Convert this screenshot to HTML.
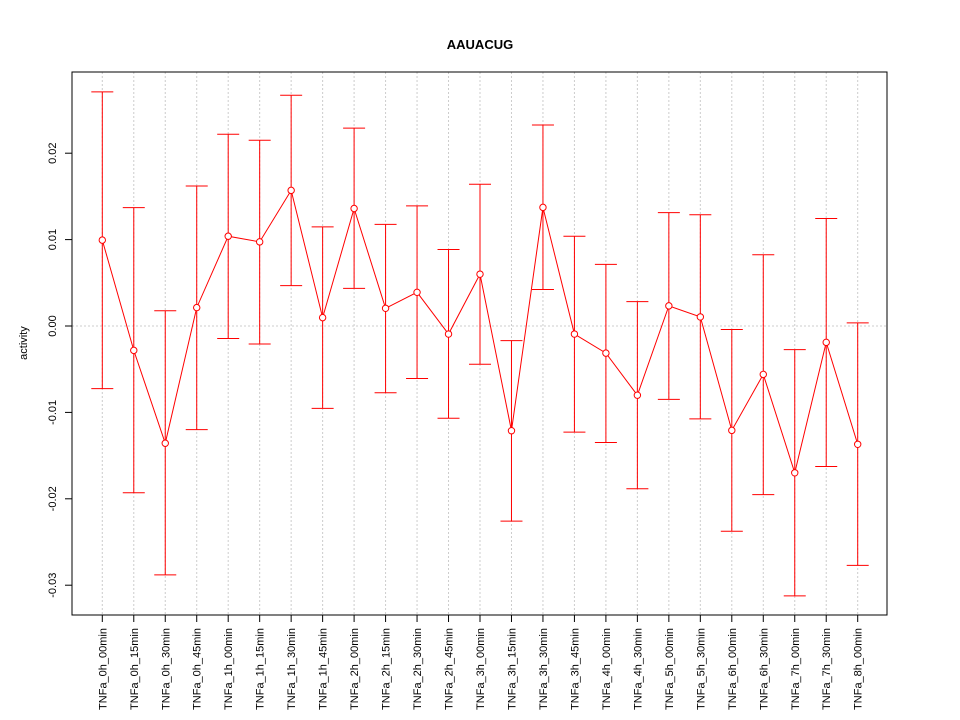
<!DOCTYPE html>
<html><head><meta charset="utf-8"><style>
body{margin:0;background:#fff}
svg{display:block;font-family:"Liberation Sans",sans-serif}
</style></head><body>
<svg id="chart" width="960" height="720">
<rect width="960" height="720" fill="#fff"/>
<text x="480" y="49" text-anchor="middle" font-weight="bold" font-size="13">AAUACUG</text>
<text transform="translate(27,343) rotate(-90)" text-anchor="middle" font-size="11">activity</text>
<g id="grid"></g><g id="marks"></g><g id="axes"></g>
<rect x="72" y="72" width="815" height="543" fill="none" stroke="#000"/>
</svg>
<script>
const categories=["TNFa_0h_00min","TNFa_0h_15min","TNFa_0h_30min","TNFa_0h_45min","TNFa_1h_00min","TNFa_1h_15min","TNFa_1h_30min","TNFa_1h_45min","TNFa_2h_00min","TNFa_2h_15min","TNFa_2h_30min","TNFa_2h_45min","TNFa_3h_00min","TNFa_3h_15min","TNFa_3h_30min","TNFa_3h_45min","TNFa_4h_00min","TNFa_4h_30min","TNFa_5h_00min","TNFa_5h_30min","TNFa_6h_00min","TNFa_6h_30min","TNFa_7h_00min","TNFa_7h_30min","TNFa_8h_00min"];
const values=[0.00994,-0.00282,-0.01357,0.00213,0.01039,0.00974,0.0157,0.00097,0.0136,0.00205,0.0039,-0.00093,0.006,-0.01212,0.01373,-0.00093,-0.00314,-0.00801,0.00233,0.00105,-0.01208,-0.0056,-0.01699,-0.00189,-0.01369];
const upper=[0.0271,0.0137,0.00177,0.0162,0.0222,0.0215,0.0267,0.01147,0.0229,0.01176,0.0139,0.00886,0.0164,-0.00169,0.02327,0.01039,0.00713,0.00282,0.01312,0.01288,-0.0004,0.00825,-0.00274,0.01244,0.00036];
const lower=[-0.00725,-0.0193,-0.0288,-0.012,-0.00145,-0.00209,0.00467,-0.00954,0.00435,-0.00773,-0.00608,-0.01067,-0.00443,-0.02258,0.00423,-0.01228,-0.01349,-0.01884,-0.00849,-0.01075,-0.02375,-0.01952,-0.03124,-0.01626,-0.0277];
const yTicks=[-0.03,-0.02,-0.01,0,0.01,0.02];
const yTickLabels=["-0.03","-0.02","-0.01","0.00","0.01","0.02"];
const NS="http://www.w3.org/2000/svg";
function X(i){return 102.3+i*(857.7-102.3)/(categories.length-1);}
function Y(v){return 326-v*8640;}
function mk(tag,attrs,parent){const e=document.createElementNS(NS,tag);for(const k in attrs)e.setAttribute(k,attrs[k]);parent.appendChild(e);return e;}
const grid=document.getElementById('grid'),marks=document.getElementById('marks'),axes=document.getElementById('axes');
categories.forEach((c,i)=>{
  const g=mk('line',{x1:X(i),x2:X(i),y1:72,y2:615,stroke:'#ccc','stroke-dasharray':'2,2'},grid);
  
  
  const t=mk('line',{x1:X(i),x2:X(i),y1:615,y2:622,stroke:'#000'},axes);
  
  
  const l=mk('text',{transform:`translate(${X(i)+4},628) rotate(-90)`,'text-anchor':'end','font-size':'11'},axes);
  l.textContent=c;
  
  
});
yTicks.forEach((v,i)=>{
  const t=mk('line',{x1:65,x2:72,y1:Y(v),y2:Y(v),stroke:'#000'},axes);
  
  
  const l=mk('text',{transform:`translate(56,${Y(v)}) rotate(-90)`,'text-anchor':'middle','font-size':'11'},axes);
  l.textContent=yTickLabels[i];
  
  
});
const z=mk('line',{x1:72,x2:887,y1:Y(0),y2:Y(0),stroke:'#ccc','stroke-dasharray':'2,2'},grid);


values.forEach((v,i)=>{
  const x=X(i);
  const b=mk('path',{d:`M${x},${Y(upper[i])}V${Y(lower[i])}M${x-11},${Y(upper[i])}H${x+11}M${x-11},${Y(lower[i])}H${x+11}`,stroke:'#f00',fill:'none'},marks);
  
  
});
const pts=values.map((v,i)=>X(i)+','+Y(v)).join(' ');
const pl=mk('polyline',{points:pts,fill:'none',stroke:'#f00'},marks);


values.forEach((v,i)=>{
  const c=mk('circle',{cx:X(i),cy:Y(v),r:3.2,fill:'#fff',stroke:'#f00'},marks);
  
  
});
</script>
</body></html>
